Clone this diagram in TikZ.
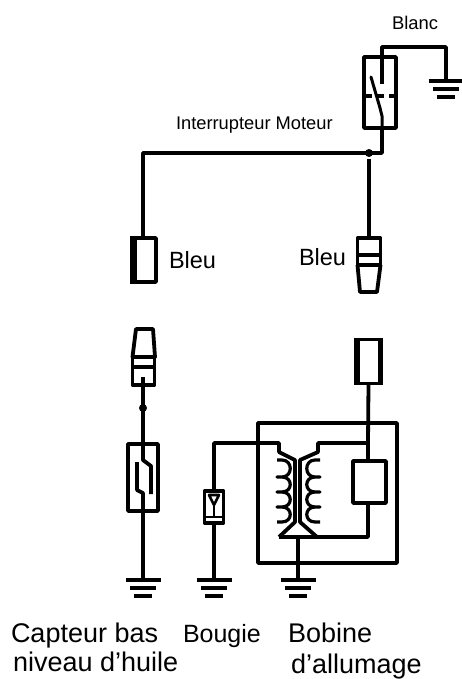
\documentclass[tikz,border=0pt]{standalone}
\usepackage{fontspec}
\setmainfont{Liberation Sans}
\begin{document}
\begin{tikzpicture}[x=1pt,y=-1pt,line width=3.8pt,line join=round,
  box/.style={draw,inner sep=0pt,outer sep=0pt,minimum width=#1},
  lbl/.style={anchor=base west,inner sep=0pt,outer sep=0pt,font=\fontsize{#1}{#1}\selectfont,text=black},
  gnd/.pic={\draw (-17.5,0) -- (17.5,0) (-13,8) -- (13,8) (-9,16) -- (9,16);},
  dot/.style={circle,fill,inner sep=0pt,minimum size=8pt}]
\useasboundingbox (0,0) rectangle (462,679);
% named points
\coordinate (topA) at (382,47);
\coordinate (topB) at (446,47);
\coordinate (gTop) at (446,81);
\coordinate (cont) at (382,84);
\coordinate (swBase) at (382,153);
\coordinate (leftCorner) at (143,153);
\coordinate (g1) at (143,580);
\coordinate (g2) at (214,580);
\coordinate (g3) at (298,580);
\coordinate (sec) at (214,443);
\coordinate (jn) at (368,443);
\coordinate (coilBase) at (368,537);
% switch
\node[box=32pt,minimum height=71pt] (sw) at (380,92.5) {};
\node[dot] (j1) at (369,153) {};
\draw (sw.south -| swBase) -- (swBase) -- (leftCorner) -- (143,237);
\draw (cont) -- (topA) -- (topB) -- (gTop);
\pic at (gTop) {gnd};
\draw[line width=3pt,line cap=round] (371,77) -- (380,108);
\draw[line width=3pt] (380,108) -- (382,116) -- (382,128);
\draw[dash pattern=on 7pt off 5pt on 7pt off 5pt on 9pt off 5pt] (365,96) -- (398,96);
% left blue connector
\node[box=24pt,minimum height=44pt] (cL) at (144,260) {};
\draw[line width=6.5pt] (cL.north west) ++(1.5,-1.9) -- ++(0,47.8);
\node[lbl=23.5] (tBleuL) at (169,268) {Bleu};
% right blue plug
\node[box=23pt,minimum height=17pt] (pR) at (369,246.5) {};
\node[box=23pt,minimum height=10pt] (pR2) at (369,260) {};
\draw (357.5,265) -- (360,292) -- (377,292) -- (380.5,265);
\node[lbl=23.5] (tBleuR) at (299,265) {Bleu};
\draw (j1) -- (pR.north);
% lower left plug
\draw (136,329) -- (153,329) -- (155,357) -- (132.5,357) -- cycle;
\node[box=22pt,minimum height=18pt] (pL) at (143.5,376) {};
\node[box=22pt,minimum height=10pt] (pL2) at (143.5,362) {};
% lower right connector
\node[box=25pt,minimum height=44pt] (cR) at (368.5,361.5) {};
\draw[line width=6.5pt] (cR.north west) ++(1,-1.9) -- ++(0,47.8);
\draw[line width=5.5pt] (cR.north east) ++(-0.5,-1.9) -- ++(0,47.8);
% sensor
\node[dot] (j2) at (143,408) {};
\node[box=30pt,minimum height=67pt] (sn) at (143,477.5) {};
\draw (143,377) -- (143,460) -- (151,466) -- (151,494);
\draw (g1) -- (143,493) -- (137,490) -- (137,462);
\pic at (g1) {gnd};
% spark plug
\node[box=19pt,minimum height=32pt] (sp) at (214,507) {};
\draw[line width=2.6pt] (209,495) -- (219,495) -- (214,505) -- cycle;
\draw[line width=2.6pt] (214,505) -- (214,517) (206,517) -- (222,517);
\draw (sp.south) -- (g2);
\pic at (g2) {gnd};
% coil outer box
\node[box=139pt,minimum height=140pt] (cb) at (327.5,493) {};
\draw (cR.south) -- (jn);
\node[box=33pt,minimum height=42pt] (rs) at (369.5,482) {};
\draw (jn) -- (368,461);
\draw (368,503) -- (coilBase) -- (317,537) -- (279,537);
\draw (279,537) -- (295,522) -- (295,460) -- (279,452) -- (279,443) -- (sec) -- (sp.north);
\draw (317,537) -- (300,522) -- (300,460) -- (318,452) -- (318,443) -- (jn);
\draw[line width=3.2pt] (277,460) -- (282,460) .. controls (293,460) and (293,477) .. (282,477) -- (277,477) -- (282,477)
   .. controls (293,477) and (293,492) .. (282,492) -- (277,492) -- (282,492)
   .. controls (293,492) and (293,507) .. (282,507) -- (277,507) -- (282,507)
   .. controls (293,507) and (293,522) .. (282,522) -- (277,522);
\draw[line width=3.2pt] (320,460) -- (315,460) .. controls (304,460) and (304,477) .. (315,477) -- (320,477) -- (315,477)
   .. controls (304,477) and (304,492) .. (315,492) -- (320,492) -- (315,492)
   .. controls (304,492) and (304,507) .. (315,507) -- (320,507) -- (315,507)
   .. controls (304,507) and (304,522) .. (315,522) -- (320,522);
\draw (298,537) -- (g3);
\pic at (g3) {gnd};
% labels
\node[lbl=18.4] (tBlanc) at (392,30) {Blanc};
\node[lbl=18.3] (tInt) at (176,130) {Interrupteur Moteur};
\node[lbl=27] (tC) at (11,642) {Capteur bas};
\node[lbl=27] (tN) at (13,671) {niveau d’huile};
\node[lbl=25] (tBg) at (183,642) {Bougie};
\node[lbl=27] (tBb) at (288,642) {Bobine};
\node[lbl=27] (tD) at (291,673) {d’allumage};
\end{tikzpicture}
\end{document}
